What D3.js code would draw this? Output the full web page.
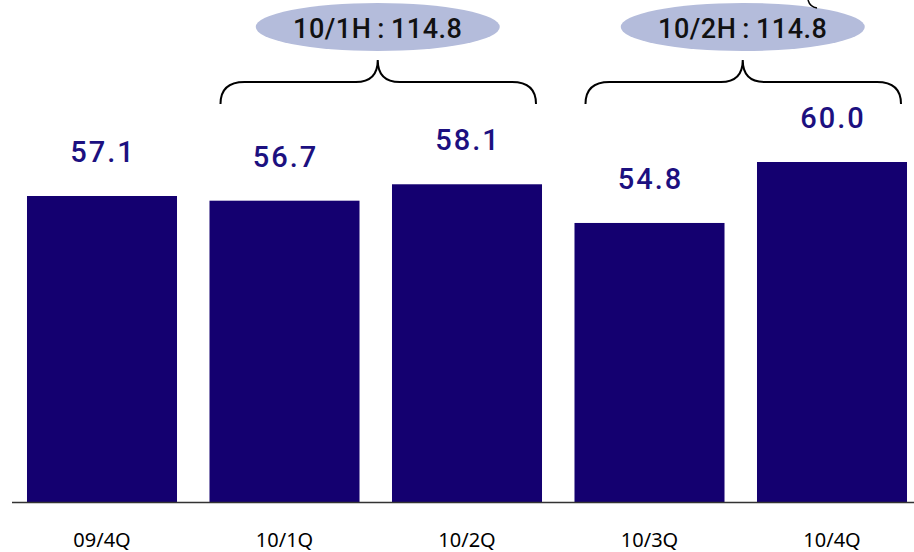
<!DOCTYPE html>
<html><head><meta charset="utf-8">
<script src="https://cdn.jsdelivr.net/npm/d3@7"></script>
<style>body{margin:0;background:#fff}svg{display:block}</style>
</head><body>
<script>
const categories = ["09/4Q","10/1Q","10/2Q","10/3Q","10/4Q"];
const values = [57.1, 56.7, 58.1, 54.8, 60.0];
const valueLabels = ["57.1","56.7","58.1","54.8","60.0"];
const groups = [
  {label:"10/1H\u2009:\u2009114.8", from:"10/1Q", to:"10/2Q"},
  {label:"10/2H\u2009:\u2009114.8", from:"10/3Q", to:"10/4Q"}
];

const W=914,H=552;
const svg=d3.select("body").append("svg").attr("width",W).attr("height",H);

const x=d3.scaleBand().domain(categories).range([10.75,923.25]).paddingInner(0.178).paddingOuter(0.089);
const y=d3.scaleLinear().domain([31,60]).range([502,162]);

svg.selectAll("rect.bar").data(values).join("rect").attr("class","bar")
  .attr("x",(d,i)=>x(categories[i])).attr("width",x.bandwidth())
  .attr("y",d=>y(d)).attr("height",d=>y(31)-y(d)).attr("fill","#140070");

svg.selectAll("text.val").data(values).join("text").attr("class","val")
  .attr("x",(d,i)=>x(categories[i])+x.bandwidth()/2+1).attr("y",d=>y(d)-34)
  .attr("text-anchor","middle").attr("font-family","Roboto, sans-serif").attr("font-weight",500)
  .attr("font-size",29).attr("fill","#1c1080").attr("letter-spacing",2)
  .text((d,i)=>valueLabels[i]);

svg.append("line").attr("x1",12).attr("x2",914).attr("y1",y(31)+0.5).attr("y2",y(31)+0.5)
  .attr("stroke","#333").attr("stroke-width",1.5);

const ax=svg.append("g").attr("transform",`translate(0,${y(31)})`)
  .call(d3.axisBottom(x).tickSize(0).tickPadding(31));
ax.select(".domain").remove();
ax.selectAll("text").attr("font-family","'Noto Sans', sans-serif")
  .attr("font-size",20).attr("fill","#000");

groups.forEach(g=>{
  const x0=x(g.from)+11, x1=x(g.to)+x.bandwidth()-6, xm=(x(g.from)+x(g.to)+x.bandwidth())/2+2;
  const yb=104, yh=82, yt=60;
  const p=`M${x0},${yb} Q${x0},${yh} ${x0+24},${yh} L${xm-22},${yh} Q${xm},${yh} ${xm},${yt} Q${xm},${yh} ${xm+22},${yh} L${x1-24},${yh} Q${x1},${yh} ${x1},${yb}`;
  svg.append("path").attr("d",p).attr("fill","none").attr("stroke","#000").attr("stroke-width",2);
  svg.append("ellipse").attr("cx",xm).attr("cy",27).attr("rx",122).attr("ry",24).attr("fill","#b4bcdb");
  svg.append("text").attr("x",xm).attr("y",38).attr("text-anchor","middle")
    .attr("font-family","Roboto, sans-serif").attr("font-weight",500).attr("font-size",27)
    .attr("letter-spacing",0.5).attr("fill","#111")
    .text(g.label);
});

svg.append("path").attr("d","M808,0 Q810,7 817,8").attr("fill","none").attr("stroke","#000").attr("stroke-width",1.5);
</script>
</body></html>
